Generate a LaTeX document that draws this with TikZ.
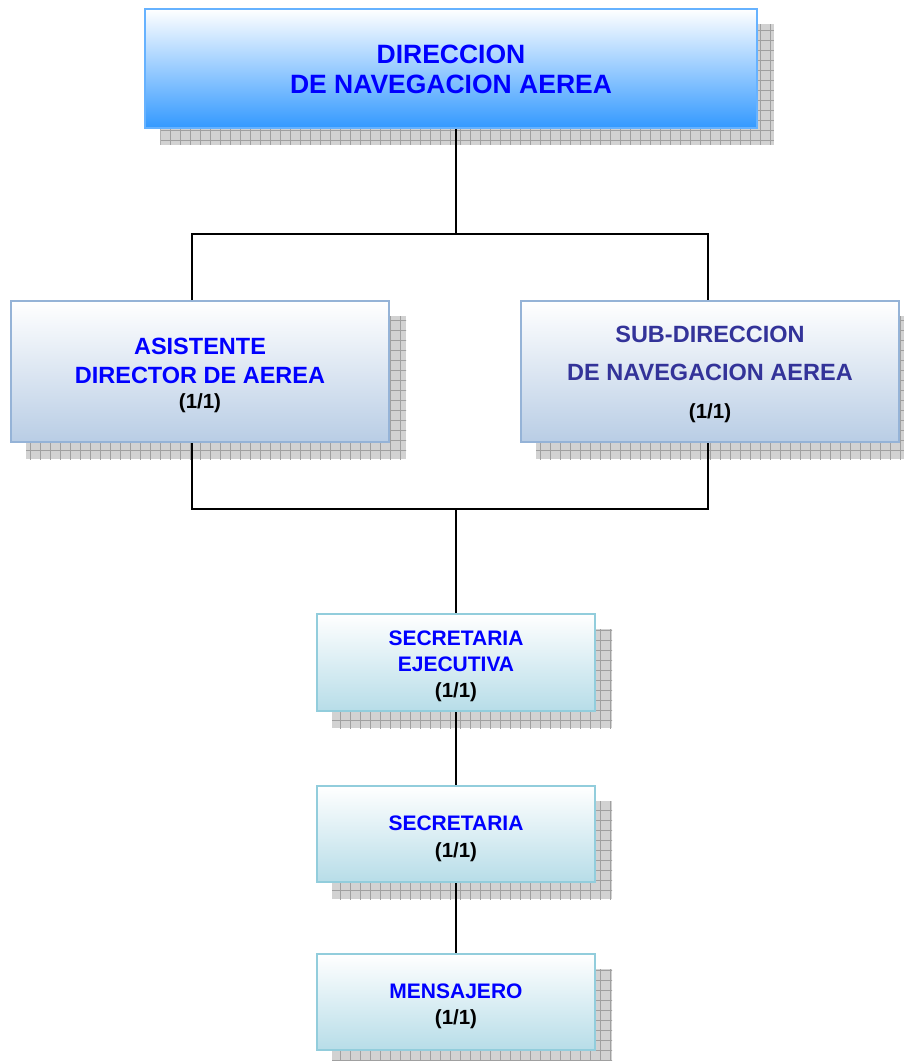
\documentclass[tikz,border=0pt]{standalone}
\usepackage{fontspec}
\setmainfont{Liberation Sans}
\usetikzlibrary{backgrounds}
\definecolor{topbot}{RGB}{51,153,255}
\definecolor{topmid}{RGB}{212,226,255}
\definecolor{topedge}{RGB}{102,178,255}
\definecolor{midbot}{RGB}{185,205,229}
\definecolor{midedge}{RGB}{149,179,215}
\definecolor{lowbot}{RGB}{183,221,232}
\definecolor{lowedge}{RGB}{146,205,220}
\definecolor{txtblue}{RGB}{0,0,255}
\definecolor{txtnavy}{RGB}{51,51,153}
\definecolor{shfill}{RGB}{210,210,210}
\definecolor{shline}{RGB}{160,160,160}
\tikzset{
  topbox/.style={draw=topedge, line width=1.5pt, top color=white, middle color=topmid, bottom color=topbot, minimum width=612pt, minimum height=119pt, inner sep=0pt},
  midbox/.style={draw=midedge, line width=2pt, top color=white, bottom color=midbot, minimum width=378pt, minimum height=141pt, inner sep=0pt},
  lowbox/.style={draw=lowedge, line width=2pt, top color=white, bottom color=lowbot, minimum width=278pt, minimum height=96pt, inner sep=0pt},
  ttl/.style={anchor=base, inner sep=0pt, text=txtblue, font=\bfseries\fontsize{26.5}{28}\selectfont},
  midtxt/.style={anchor=base, inner sep=0pt, text=txtblue, font=\bfseries\fontsize{23.5}{26}\selectfont},
  navtxt/.style={anchor=base, inner sep=0pt, text=txtnavy, font=\bfseries\fontsize{23.5}{26}\selectfont},
  lowtxt/.style={anchor=base, inner sep=0pt, text=txtblue, font=\bfseries\fontsize{21}{24}\selectfont},
  numtxt/.style={anchor=base, inner sep=0pt, text=black, font=\bfseries\fontsize{20.5}{23}\selectfont},
  conn/.style={draw=black, line width=1.6pt},
}
\newcommand{\gshadow}[1]{%
  \begin{scope}
    \path[fill=shfill] ([shift={(16pt,-16pt)}]#1.south west) rectangle ([shift={(16pt,-16pt)}]#1.north east);
    \clip ([shift={(16pt,-16pt)}]#1.south west) rectangle ([shift={(16pt,-16pt)}]#1.north east);
    \draw[shline, line width=0.9pt, step=10pt] (0pt,0pt) grid (904pt,-1061pt);
  \end{scope}}
\begin{document}
\begin{tikzpicture}[x=1pt,y=-1pt]
\useasboundingbox (0,0) rectangle (904,1061);
% boxes
\node[topbox] (top) at (451,68.5) {};
\node[midbox] (asis) at (200,371.5) {};
\node[midbox] (sub) at (710,371.5) {};
\node[lowbox, minimum height=97pt] (sej) at (456,662.5) {};
\node[lowbox] (sec) at (456,834) {};
\node[lowbox] (men) at (456,1002) {};
% shadows
\begin{scope}[on background layer]
  \gshadow{top}
  \gshadow{asis}
  \gshadow{sub}
  \gshadow{sej}
  \gshadow{sec}
  \gshadow{men}
\end{scope}
% texts
\node[ttl] (t1) at (451,63) {DIRECCION};
\node[ttl] (t2) at (451,93) {DE NAVEGACION AEREA};
\node[midtxt] (a1) at (200,354) {ASISTENTE};
\node[midtxt] (a2) at (200,383) {DIRECTOR DE AEREA};
\node[numtxt] (a3) at (200,408) {(1/1)};
\node[navtxt] (s1) at (710,342) {SUB-DIRECCION};
\node[navtxt] (s2) at (710,380) {DE NAVEGACION AEREA};
\node[numtxt] (s3) at (710,418) {(1/1)};
\node[lowtxt] (e1) at (456,645) {SECRETARIA};
\node[lowtxt] (e2) at (456,671) {EJECUTIVA};
\node[numtxt] (e3) at (456,697) {(1/1)};
\node[lowtxt] (c1) at (456,830) {SECRETARIA};
\node[numtxt] (c2) at (456,857) {(1/1)};
\node[lowtxt] (m1) at (456,998) {MENSAJERO};
\node[numtxt] (m2) at (456,1024) {(1/1)};
% connectors
\coordinate (jt) at (456,234);
\coordinate (la) at (192,234);
\coordinate (ra) at (708,234);
\coordinate (lb) at (192,509);
\coordinate (rb) at (708,509);
\coordinate (jb) at (456,509);
\draw[conn] (top.south -| jt) -- (jt);
\draw[conn] (asis.north -| la) -- (la) -- (ra) -- (sub.north -| ra);
\draw[conn] (asis.south -| lb) -- (lb) -- (rb) -- (sub.south -| rb);
\draw[conn] (jb) -- (sej.north);
\draw[conn] (sej.south) -- (sec.north);
\draw[conn] (sec.south) -- (men.north);
\end{tikzpicture}
\end{document}
